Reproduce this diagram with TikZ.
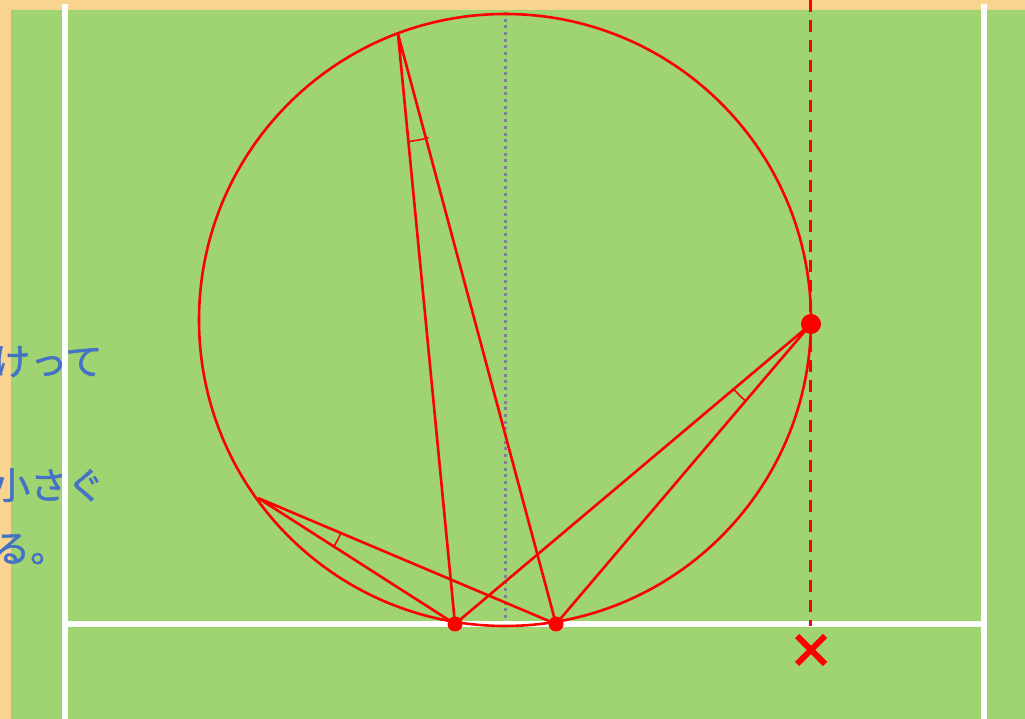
\documentclass[tikz,border=0pt]{standalone}
\usepackage{fontspec}
\newfontfamily\cjk[FakeBold=1.3]{Noto Sans CJK JP}
\definecolor{bgorange}{RGB}{249,212,145}
\definecolor{field}{RGB}{160,211,113}
\definecolor{txtblue}{RGB}{68,114,196}
\definecolor{dotgrey}{RGB}{128,128,155}
\begin{document}
\begin{tikzpicture}[x=1pt,y=1pt,
  whiteline/.style={white,line width=6pt},
  redline/.style={red,line width=2.6pt},
  anglemark/.style={red,line width=1.5pt},
  jtext/.style={anchor=base west,inner sep=0pt,text=txtblue,font=\cjk\fontsize{37}{44}\selectfont}]
\clip (0,0) rectangle (1025,719);
\fill[bgorange] (0,0) rectangle (1025,719);
\fill[field] (11,0) rectangle (1025,709);
% text (cut by the picture edge)
\node[jtext] (t1) at (-7,344) {けって};
\node[jtext] (t2) at (-7,220) {小さぐ};
\node[jtext] (t3) at (-7,157) {る。};
% field lines
\draw[whiteline] (65,0) -- (65,715);
\draw[whiteline] (984,0) -- (984,715);
\draw[whiteline] (65,95) -- (984,95);
% centre dotted line
\draw[dotgrey,line width=3pt,dash pattern=on 3pt off 3.7pt] (505,707) -- (505,99);
% circle
\coordinate (O) at (505,399);
\draw[redline] (O) circle[radius=306pt];
% points
\coordinate (Q) at (398,685);
\coordinate (R) at (258,221);
\coordinate (A) at (455,95);
\coordinate (B) at (556,95);
\coordinate (P) at (811,395);
% dashed vertical
\coordinate (Dtop) at (810,719);
\coordinate (Dbot) at (810,93);
\draw[red,line width=3pt,dash pattern=on 12pt off 8pt] (Dtop) -- (Dbot);
% lines
\draw[redline] (Q) -- (A) (Q) -- (B);
\draw[redline] (R) -- (A) (R) -- (B);
\draw[redline] (P) -- (A) (P) -- (B);
% angle marks
\draw[anglemark] ([shift={(-84.5:108pt)}]Q) arc[start angle=-84.5,end angle=-73.5,radius=108pt];
\draw[anglemark] ([shift={(-32.6:90pt)}]R) arc[start angle=-32.6,end angle=-22.9,radius=90pt];
\draw[anglemark] ([shift={(220.1:101pt)}]P) arc[start angle=220.1,end angle=229.6,radius=101pt];
% dots
\fill[red] (A) circle[radius=7.5pt];
\fill[red] (B) circle[radius=7.5pt];
\fill[red] (P) circle[radius=10pt];
% cross
\coordinate (X) at (811,69);
\draw[red,line width=6pt] ([shift={(-14,14)}]X) -- ([shift={(14,-14)}]X);
\draw[red,line width=6pt] ([shift={(-14,-14)}]X) -- ([shift={(14,14)}]X);
\end{tikzpicture}
\end{document}
